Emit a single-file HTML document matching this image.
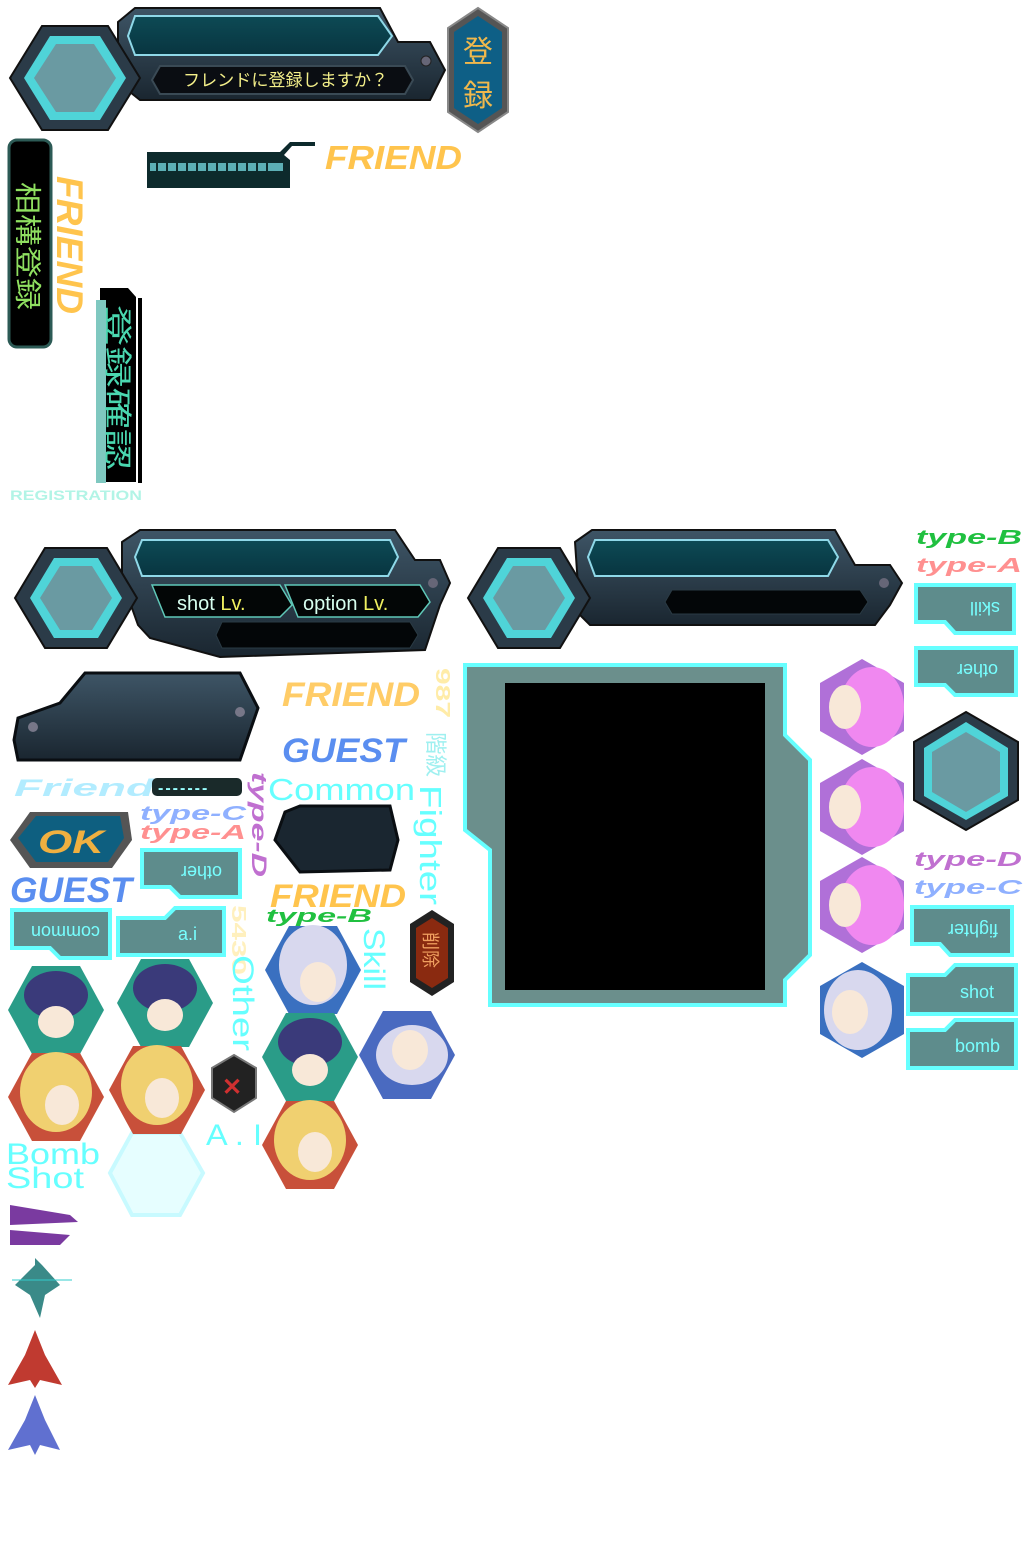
<!DOCTYPE html>
<html><head><meta charset="utf-8"><style>
html,body{margin:0;padding:0;background:#fff;}
svg{display:block}
text{font-family:"Liberation Sans","Noto Sans CJK JP",sans-serif;}
</style></head><body>
<svg width="1034" height="1551" viewBox="0 0 1034 1551" xmlns="http://www.w3.org/2000/svg">
<defs>
<polygon id="fh" points="-48,0 -24,-44 24,-44 48,0 24,44 -24,44"/>
<polygon id="fv" points="0,-48 42,-24 42,24 0,48 -42,24 -42,-24"/>
<linearGradient id="metal" x1="0" y1="0" x2="0" y2="1"><stop offset="0" stop-color="#3e5566"/><stop offset="1" stop-color="#1a2630"/></linearGradient>
<linearGradient id="tealbar" x1="0" y1="0" x2="0" y2="1"><stop offset="0" stop-color="#0d4a55"/><stop offset="1" stop-color="#083540"/></linearGradient>
</defs>

<!-- ===== TOP PANEL ===== -->
<polygon points="118,22 135,8 380,8 398,42 430,42 445,70 430,100 140,100 125,88 118,70" fill="url(#metal)" stroke="#111" stroke-width="2"/>
<polygon points="135,16 378,16 392,36 378,55 135,55 128,36" fill="url(#tealbar)" stroke="#8fd8e8" stroke-width="2"/>
<polygon points="160,66 405,66 413,80 405,94 160,94 152,80" fill="#0a0d12" stroke="#3a4a55" stroke-width="2"/>
<text x="183" y="86" font-size="17" fill="#f4f08a" textLength="205" lengthAdjust="spacingAndGlyphs">フレンドに登録しますか？</text>
<circle cx="426" cy="61" r="5" fill="#667" stroke="#222"/>
<polygon points="10,78 42,26 108,26 140,78 108,130 42,130" fill="#2b3b48" stroke="#111" stroke-width="2"/>
<polygon points="24,78 50,36 100,36 126,78 100,120 50,120" fill="#4fd4d8"/>
<polygon points="34,78 56,44 94,44 116,78 94,112 56,112" fill="#6a9aa2"/>
<polygon points="478,8 508,28 508,112 478,132 448,112 448,28" fill="#555" stroke="#888" stroke-width="2"/>
<polygon points="478,16 502,32 502,108 478,124 454,108 454,32" fill="#0e5f86"/>
<text x="478" y="62" font-size="30" fill="#f0b84c" text-anchor="middle">登</text>
<text x="478" y="106" font-size="30" fill="#f0b84c" text-anchor="middle">録</text>

<polygon points="147,152 280,152 290,142 315,142 315,146 292,146 284,155 290,160 290,188 147,188" fill="#0d2a2c"/>
<rect x="150" y="163" width="133" height="8" fill="#7fe8f0" opacity=".7"/>
<g fill="#0d2a2c"><rect x="156" y="163" width="2" height="8"/><rect x="166" y="163" width="2" height="8"/><rect x="176" y="163" width="2" height="8"/><rect x="186" y="163" width="2" height="8"/><rect x="196" y="163" width="2" height="8"/><rect x="206" y="163" width="2" height="8"/><rect x="216" y="163" width="2" height="8"/><rect x="226" y="163" width="2" height="8"/><rect x="236" y="163" width="2" height="8"/><rect x="246" y="163" width="2" height="8"/><rect x="256" y="163" width="2" height="8"/><rect x="266" y="163" width="2" height="8"/></g>
<text x="325" y="169" font-size="33" font-style="italic" font-weight="bold" fill="#ffc44d" textLength="137" lengthAdjust="spacingAndGlyphs">FRIEND</text>

<rect x="9" y="140" width="42" height="207" rx="8" fill="#000" stroke="#2c5a55" stroke-width="3"/>
<text transform="translate(18,182) rotate(90)" font-size="27" fill="#8fe060" textLength="128" lengthAdjust="spacingAndGlyphs">相構登録</text>
<text transform="translate(57,176) rotate(90)" font-size="37" font-style="italic" font-weight="bold" fill="#ffc44d" textLength="138" lengthAdjust="spacingAndGlyphs">FRIEND</text>
<polygon points="100,288 128,288 136,297 136,482 100,482" fill="#000"/>
<rect x="96" y="300" width="10" height="183" fill="#7fc8c0"/>
<rect x="138" y="298" width="4" height="185" fill="#000"/>
<text transform="translate(108,305) rotate(90)" font-size="28" fill="#4ad8b0" textLength="165" lengthAdjust="spacingAndGlyphs">登録確認</text>
<text x="10" y="500" font-size="14" font-weight="bold" fill="#9ff2e0" opacity=".8" textLength="132" lengthAdjust="spacingAndGlyphs">REGISTRATION</text>

<!-- ===== MIDDLE LEFT PANEL ===== -->
<polygon points="122,542 140,530 395,530 415,560 440,560 450,583 440,605 425,650 220,657 150,638 138,625 122,580" fill="url(#metal)" stroke="#111" stroke-width="2"/>
<polygon points="142,540 390,540 398,557 388,576 142,576 135,557" fill="url(#tealbar)" stroke="#8fd8e8" stroke-width="2"/>
<polygon points="152,585 280,585 292,605 280,617 165,617" fill="#030606" stroke="#5fc8b8" stroke-width="1.5"/>
<polygon points="285,585 420,585 430,602 418,617 298,617" fill="#030606" stroke="#5fc8b8" stroke-width="1.5"/>
<text x="177" y="610" font-size="20" fill="#d8fff0">shot <tspan fill="#f0f060">Lv.</tspan></text>
<text x="303" y="610" font-size="20" fill="#d8fff0">option <tspan fill="#f0f060">Lv.</tspan></text>
<polygon points="222,622 410,622 418,635 410,648 222,648 216,635" fill="#030608" stroke="#2a3a44"/>
<circle cx="433" cy="583" r="5" fill="#667"/>
<polygon points="15,598 45,548 107,548 137,598 107,648 45,648" fill="#2b3b48" stroke="#111" stroke-width="2"/>
<polygon points="30,598 54,558 98,558 122,598 98,638 54,638" fill="#4fd4d8"/>
<polygon points="40,598 60,566 92,566 112,598 92,630 60,630" fill="#6a9aa2"/>

<polygon points="575,542 592,530 835,530 855,565 890,565 902,583 890,605 875,625 590,625 580,615" fill="url(#metal)" stroke="#111" stroke-width="2"/>
<polygon points="595,540 828,540 838,557 828,576 595,576 588,557" fill="url(#tealbar)" stroke="#8fd8e8" stroke-width="2"/>
<polygon points="672,590 860,590 868,602 860,614 672,614 665,602" fill="#030608" stroke="#2a3a44"/>
<circle cx="884" cy="583" r="5" fill="#667"/>
<polygon points="468,598 498,548 560,548 590,598 560,648 498,648" fill="#2b3b48" stroke="#111" stroke-width="2"/>
<polygon points="483,598 507,558 551,558 575,598 551,638 507,638" fill="#4fd4d8"/>
<polygon points="493,598 513,566 545,566 565,598 545,630 513,630" fill="#6a9aa2"/>

<polygon points="18,718 60,703 85,673 240,673 258,708 240,760 18,760 14,740" fill="url(#metal)" stroke="#0a0e12" stroke-width="3"/>
<circle cx="33" cy="727" r="5" fill="#778"/><circle cx="240" cy="712" r="5" fill="#778"/>

<text x="282" y="706" font-size="34" font-style="italic" font-weight="bold" fill="#ffc44d" opacity=".85" textLength="138" lengthAdjust="spacingAndGlyphs">FRIEND</text>
<text x="282" y="762" font-size="34" font-style="italic" font-weight="bold" fill="#5a8ef0" textLength="123" lengthAdjust="spacingAndGlyphs">GUEST</text>
<text transform="translate(436,668) rotate(90)" font-size="20" font-weight="bold" fill="#ffe070" opacity=".6" textLength="50" lengthAdjust="spacingAndGlyphs">987</text>
<text transform="translate(428,732) rotate(90)" font-size="22" fill="#9ff0f0" textLength="45" lengthAdjust="spacingAndGlyphs">階級</text>
<text x="14" y="796" font-size="24" font-style="italic" font-weight="bold" fill="#9fe8ff" opacity=".8" textLength="140" lengthAdjust="spacingAndGlyphs">Friend</text>
<rect x="152" y="778" width="90" height="18" rx="5" fill="#1a2a2a"/>
<text x="158" y="793" font-size="16" font-weight="bold" fill="#9ff" letter-spacing="2">-------</text>
<text transform="translate(252,772) rotate(90)" font-size="21" font-style="italic" font-weight="bold" fill="#c070d0" textLength="105" lengthAdjust="spacingAndGlyphs">type-D</text>
<text x="268" y="800" font-size="31" fill="#6ff" textLength="147" lengthAdjust="spacingAndGlyphs">Common</text>
<text transform="translate(420,785) rotate(90)" font-size="31" fill="#6ff" textLength="120" lengthAdjust="spacingAndGlyphs">Fighter</text>

<text x="140" y="820" font-size="20" font-style="italic" font-weight="bold" fill="#8fb0ff" textLength="106" lengthAdjust="spacingAndGlyphs">type-C</text>
<text x="140" y="839" font-size="20" font-style="italic" font-weight="bold" fill="#ff9090" textLength="106" lengthAdjust="spacingAndGlyphs">type-A</text>
<polygon points="10,840 30,812 128,812 132,840 112,868 30,868" fill="#555"/>
<polygon points="18,838 36,816 120,816 124,838 108,862 36,862" fill="#0e5f80"/>
<text x="38" y="853" font-size="32" font-style="italic" font-weight="bold" fill="#f0b040" textLength="66" lengthAdjust="spacingAndGlyphs">OK</text>
<text x="10" y="902" font-size="35" font-style="italic" font-weight="bold" fill="#5a8ef0" textLength="122" lengthAdjust="spacingAndGlyphs">GUEST</text>

<polygon points="285,812 300,806 390,806 398,840 390,870 300,872 275,840" fill="#1a2630" stroke="#0a0e12" stroke-width="3"/>
<text x="270" y="907" font-size="32" font-style="italic" font-weight="bold" fill="#ffc44d" textLength="136" lengthAdjust="spacingAndGlyphs">FRIEND</text>
<text x="266" y="922" font-size="18" font-style="italic" font-weight="bold" fill="#20c040" textLength="106" lengthAdjust="spacingAndGlyphs">type-B</text>
<text transform="translate(232,905) rotate(90)" font-size="20" font-weight="bold" fill="#ffe070" opacity=".45" textLength="70" lengthAdjust="spacingAndGlyphs">5430</text>
<text transform="translate(233,955) rotate(90)" font-size="30" fill="#6ff" textLength="96" lengthAdjust="spacingAndGlyphs">Other</text>
<text transform="translate(364,928) rotate(90)" font-size="30" fill="#6ff" textLength="62" lengthAdjust="spacingAndGlyphs">Skill</text>

<g stroke="#6ff" stroke-width="4" fill="#5e8c8c">
<polygon points="142,850 240,850 240,897 180,897 170,887 142,887"/>
<polygon points="12,910 110,910 110,958 60,958 50,948 12,948"/>
<polygon points="118,918 165,918 175,908 224,908 224,955 118,955"/>
<polygon points="916,585 1014,585 1014,633 955,633 945,622 916,622"/>
<polygon points="916,648 1016,648 1016,695 955,695 945,685 916,685"/>
<polygon points="912,907 1012,907 1012,955 950,955 940,944 912,944"/>
<polygon points="908,975 945,975 955,965 1016,965 1016,1014 908,1014"/>
<polygon points="908,1030 945,1030 955,1020 1016,1020 1016,1068 908,1068"/>
</g>
<g fill="#7ff" font-size="18">
<text transform="translate(222,866) rotate(180)">other</text>
<text transform="translate(100,926) rotate(180)">common</text>
<text x="178" y="940">a.i</text>
<text transform="translate(1000,602) rotate(180)">skill</text>
<text transform="translate(998,664) rotate(180)">other</text>
<text transform="translate(998,924) rotate(180)">fighter</text>
<text x="960" y="998">shot</text>
<text x="955" y="1052">bomb</text>
</g>

<text x="916" y="544" font-size="20" font-style="italic" font-weight="bold" fill="#20c040" textLength="106" lengthAdjust="spacingAndGlyphs">type-B</text>
<text x="916" y="572" font-size="20" font-style="italic" font-weight="bold" fill="#ff9090" textLength="106" lengthAdjust="spacingAndGlyphs">type-A</text>
<text x="914" y="866" font-size="20" font-style="italic" font-weight="bold" fill="#c070d0" textLength="108" lengthAdjust="spacingAndGlyphs">type-D</text>
<text x="914" y="894" font-size="20" font-style="italic" font-weight="bold" fill="#8fb0ff" textLength="108" lengthAdjust="spacingAndGlyphs">type-C</text>

<polygon points="966,712 1018,742 1018,800 966,830 914,800 914,742" fill="#2b3b48" stroke="#111" stroke-width="2"/>
<polygon points="966,722 1008,748 1008,796 966,820 924,796 924,748" fill="#4fd4d8"/>
<polygon points="966,732 1000,752 1000,792 966,812 932,792 932,752" fill="#6a9aa2"/>

<polygon points="465,665 785,665 785,735 810,760 810,955 785,980 785,1005 490,1005 490,850 465,830" fill="#6b8f8c" stroke="#6ff" stroke-width="4"/>
<rect x="505" y="683" width="260" height="307" fill="#000"/>

<polygon points="432,910 454,924 454,982 432,996 410,982 410,924" fill="#222"/>
<polygon points="432,918 448,928 448,978 432,988 416,978 416,928" fill="#8a2a10"/>
<text transform="translate(424,932) rotate(90)" font-size="18" fill="#f0a060">削除</text>

<polygon points="234,1055 256,1068 256,1098 234,1112 212,1098 212,1068" fill="#222" stroke="#777" stroke-width="2"/>
<text x="222" y="1095" font-size="24" font-weight="bold" fill="#d03030">✕</text>
<text x="206" y="1145" font-size="30" fill="#6ff" textLength="56" lengthAdjust="spacingAndGlyphs">A . I</text>
<text x="6" y="1164" font-size="30" fill="#6ff" textLength="94" lengthAdjust="spacingAndGlyphs">Bomb</text>
<text x="6" y="1188" font-size="30" fill="#6ff" textLength="78" lengthAdjust="spacingAndGlyphs">Shot</text>
<polygon points="110,1173 132,1133 180,1133 203,1173 180,1215 132,1215" fill="#e6feff" stroke="#c8faff" stroke-width="4"/>

<g>
<use href="#fh" x="56" y="1010" fill="#2a9c88"/>
<use href="#fh" x="165" y="1003" fill="#2a9c88"/>
<use href="#fh" x="56" y="1097" fill="#c8503a"/>
<use href="#fh" x="157" y="1090" fill="#c8503a"/>
<use href="#fh" x="313" y="970" fill="#3a70c0"/>
<use href="#fh" x="310" y="1057" fill="#2a9c88"/>
<use href="#fh" x="310" y="1145" fill="#c8503a"/>
<use href="#fh" x="407" y="1055" fill="#4a6ac0"/>
<use href="#fv" x="862" y="707" fill="#b070d8"/>
<use href="#fv" x="862" y="807" fill="#b070d8"/>
<use href="#fv" x="862" y="905" fill="#b070d8"/>
<use href="#fv" x="862" y="1010" fill="#3a70c0"/>
</g>
<g fill="#3a3a7a">
<ellipse cx="56" cy="995" rx="32" ry="24"/><ellipse cx="165" cy="988" rx="32" ry="24"/><ellipse cx="310" cy="1042" rx="32" ry="24"/>
</g>
<g fill="#d8d8ee"><ellipse cx="313" cy="965" rx="34" ry="40"/><ellipse cx="412" cy="1055" rx="36" ry="30"/><ellipse cx="858" cy="1010" rx="34" ry="40"/></g>
<g fill="#f0d070">
<ellipse cx="56" cy="1092" rx="36" ry="40"/><ellipse cx="157" cy="1085" rx="36" ry="40"/><ellipse cx="310" cy="1140" rx="36" ry="40"/>
</g>
<g fill="#f088f0"><ellipse cx="872" cy="707" rx="32" ry="40"/><ellipse cx="872" cy="807" rx="32" ry="40"/><ellipse cx="872" cy="905" rx="32" ry="40"/></g>
<g fill="#f8e8d8">
<ellipse cx="56" cy="1022" rx="18" ry="16"/><ellipse cx="165" cy="1015" rx="18" ry="16"/><ellipse cx="310" cy="1070" rx="18" ry="16"/>
<ellipse cx="62" cy="1105" rx="17" ry="20"/><ellipse cx="162" cy="1098" rx="17" ry="20"/><ellipse cx="315" cy="1152" rx="17" ry="20"/>
<ellipse cx="318" cy="982" rx="18" ry="20"/><ellipse cx="410" cy="1050" rx="18" ry="20"/>
<ellipse cx="845" cy="707" rx="16" ry="22"/><ellipse cx="845" cy="807" rx="16" ry="22"/><ellipse cx="845" cy="905" rx="16" ry="22"/><ellipse cx="850" cy="1012" rx="18" ry="22"/>
</g>

<g>
<polygon points="10,1205 70,1215 78,1222 10,1225" fill="#7a3aa0"/>
<polygon points="10,1230 70,1235 60,1245 10,1245" fill="#7a3aa0"/>
<polygon points="35,1258 42,1265 60,1285 45,1295 40,1318 30,1295 15,1285 35,1265" fill="#3a8a88"/>
<line x1="12" y1="1280" x2="72" y2="1280" stroke="#3cc" stroke-width="1"/>
<polygon points="35,1330 45,1355 62,1385 40,1380 35,1388 30,1380 8,1385 25,1355" fill="#c03a30"/>
<polygon points="35,1395 45,1420 60,1450 40,1445 35,1455 30,1445 8,1450 25,1420" fill="#6070d0"/>
</g>
</svg>
</body></html>
